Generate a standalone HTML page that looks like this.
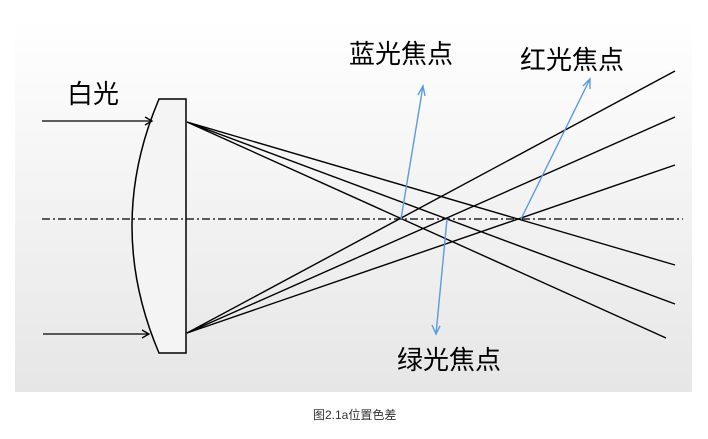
<!DOCTYPE html>
<html><head><meta charset="utf-8"><style>
html,body{margin:0;padding:0;background:#fff;width:708px;height:439px;overflow:hidden}
</style></head><body>
<svg width="708" height="439" viewBox="0 0 708 439" xmlns="http://www.w3.org/2000/svg" style="display:block">
<defs>
<linearGradient id="bg" x1="0" y1="0" x2="0" y2="1">
<stop offset="0" stop-color="#ffffff"/><stop offset="1" stop-color="#e6e6e6"/>
</linearGradient>
</defs>
<rect x="15" y="17" width="677" height="375" fill="url(#bg)"/>
<path d="M159,99 L186,99 L186,353 L159,353 Q105,226 159,99 Z" fill="#f4f4f4" stroke="#000" stroke-width="1.5"/>
<g stroke="#000" stroke-width="1.3" fill="none">
<line x1="42" y1="121" x2="152" y2="121"/><polyline points="145,117 152,121 145,125"/>
<line x1="43" y1="334" x2="149" y2="334"/><polyline points="142,330 149,334 142,338"/>
</g>
<line x1="42" y1="219" x2="683" y2="219" stroke="#000" stroke-width="1.3" stroke-dasharray="8,3,2,3"/>
<g stroke="#000" stroke-width="1.4">
<line x1="187" y1="122" x2="675" y2="265"/>
<line x1="187" y1="122" x2="675" y2="304"/>
<line x1="187" y1="122" x2="666" y2="338"/>
<line x1="187" y1="333" x2="675" y2="71"/>
<line x1="187" y1="333" x2="675" y2="117"/>
<line x1="187" y1="333" x2="675" y2="165"/>
</g>
<g stroke="#5b9be0" stroke-width="1.4" fill="none">
<line x1="401" y1="219" x2="423" y2="86"/><polyline points="418,95 423,86 425,96"/>
<line x1="521" y1="219" x2="590" y2="79"/><polyline points="583,86 590,79 590,89"/>
<line x1="447" y1="219" x2="436" y2="334"/><polyline points="432,325 436,334 440,326"/>
</g>
<g font-family="'Liberation Sans','Noto Sans CJK SC',sans-serif" fill="#000">
<text x="349" y="63" font-size="26">蓝光焦点</text>
<text x="520" y="69" font-size="26">红光焦点</text>
<text x="397" y="369" font-size="26">绿光焦点</text>
<text x="67" y="103" font-size="26">白光</text>
<text x="313" y="419" font-size="12" fill="#333">图2.1a位置色差</text>
</g>
</svg>
</body></html>
